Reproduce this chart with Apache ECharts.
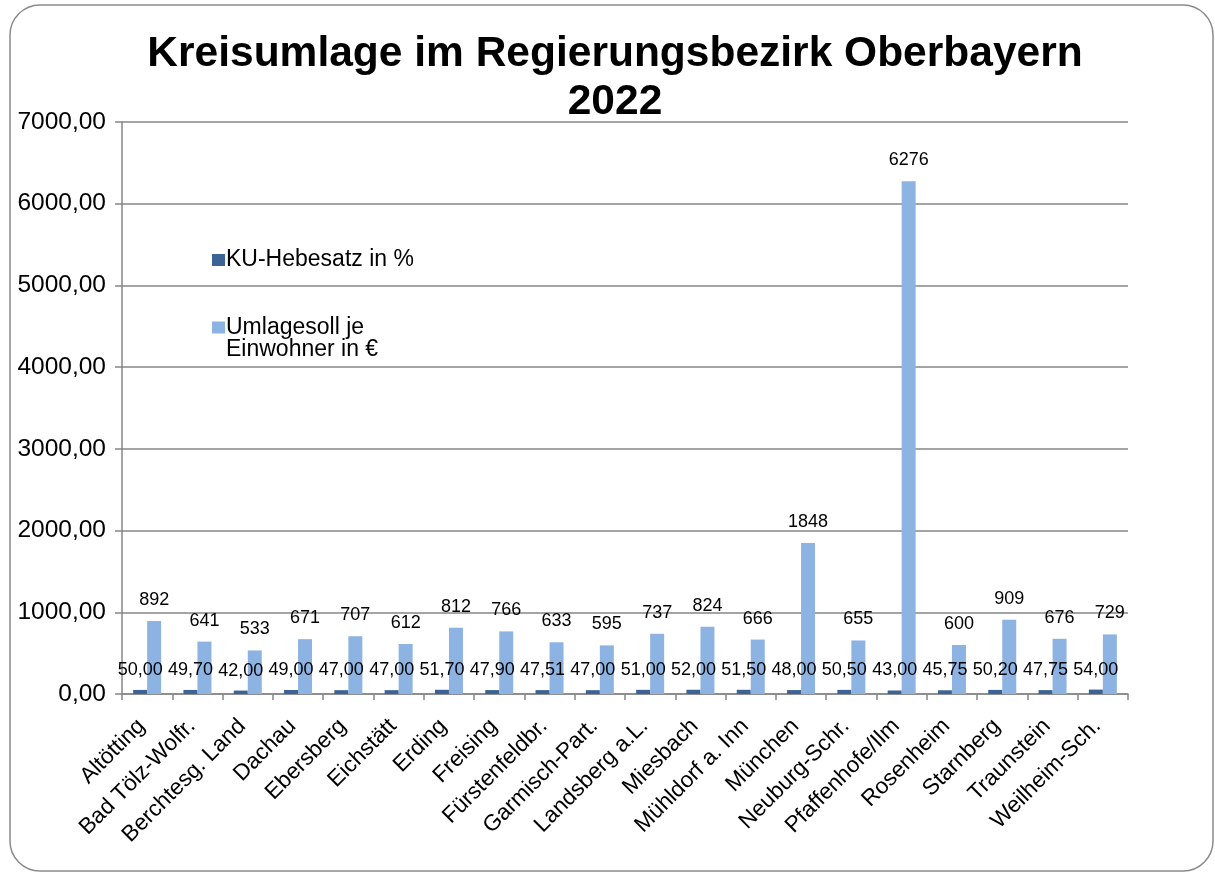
<!DOCTYPE html>
<html>
<head>
<meta charset="utf-8">
<script src="https://cdn.jsdelivr.net/npm/echarts@6/dist/echarts.min.js"></script>
<style>
  html, body { margin: 0; padding: 0; background: #fff; }
  #chart { width: 1215px; height: 873px; }
</style>
</head>
<body>
<div id="chart"></div>
<script>
  // Landkreise
  const kreise = ['Altötting', 'Bad Tölz-Wolfr.', 'Berchtesg. Land', 'Dachau', 'Ebersberg', 'Eichstätt',
    'Erding', 'Freising', 'Fürstenfeldbr.', 'Garmisch-Part.', 'Landsberg a.L.', 'Miesbach',
    'Mühldorf a. Inn', 'München', 'Neuburg-Schr.', 'Pfaffenhofe/Ilm', 'Rosenheim', 'Starnberg',
    'Traunstein', 'Weilheim-Sch.'];
  const hebesatz = [50.00, 49.70, 42.00, 49.00, 47.00, 47.00, 51.70, 47.90, 47.51, 47.00,
    51.00, 52.00, 51.50, 48.00, 50.50, 43.00, 45.75, 50.20, 47.75, 54.00];
  const umlagesoll = [892, 641, 533, 671, 707, 612, 812, 766, 633, 595,
    737, 824, 666, 1848, 655, 6276, 600, 909, 676, 729];
  const yTicks = { min: 0, max: 7000, interval: 1000 };

  const font = '"Liberation Sans", Arial, sans-serif';
  const komma = v => v.toFixed(2).replace('.', ',');

  const chart = echarts.init(document.getElementById('chart'));
  chart.setOption({
    textStyle: { fontFamily: font, color: '#000' },
    title: {
      text: 'Kreisumlage im Regierungsbezirk Oberbayern\n2022',
      left: 610,
      textAlign: 'center',
      top: 25,
      textStyle: { fontSize: 42.5, fontWeight: 'bold', color: '#000', lineHeight: 48, fontFamily: font }
    },
    graphic: [{
      type: 'rect',
      shape: { x: 10, y: 5, width: 1203, height: 866, r: 30 },
      style: { fill: 'none', stroke: '#8a8a8a', lineWidth: 1.5 },
      silent: true
    }],
    legend: [{
      data: ['KU-Hebesatz in %'],
      orient: 'vertical',
      left: 207, top: 243,
      itemWidth: 13, itemHeight: 12, itemGap: 10,
      icon: 'rect',
      textStyle: { fontSize: 23, lineHeight: 24, padding: [0, 0, 0, -4], color: '#000', fontFamily: font }
    }, {
      data: ['Umlagesoll je Einwohner in €'],
      orient: 'vertical',
      left: 207, top: 288,
      itemWidth: 13, itemHeight: 12,
      icon: 'rect',
      // leerer erster Absatz, damit die erste Zeile auf Höhe des Symbols steht
      formatter: () => '\nUmlagesoll je\nEinwohner in €',
      textStyle: { fontSize: 23, lineHeight: 22, padding: [3, 0, 0, -4], color: '#000', fontFamily: font }
    }],
    grid: { left: 122, right: 87, top: 122, bottom: 179 },
    xAxis: {
      type: 'category',
      data: kreise,
      axisLine: { lineStyle: { color: '#868686', width: 1.5 } },
      axisTick: { show: true, length: 6, lineStyle: { color: '#868686', width: 1.5 } },
      axisLabel: {
        rotate: 45, fontSize: 22.5, color: '#000', margin: 23, interval: 0,
        padding: [0, 8, 0, 0], fontFamily: font
      }
    },
    yAxis: {
      type: 'value',
      min: yTicks.min, max: yTicks.max, interval: yTicks.interval,
      axisLine: { show: true, lineStyle: { color: '#868686', width: 1.5 } },
      axisTick: { show: true, length: 7, lineStyle: { color: '#868686', width: 1.5 } },
      axisLabel: { fontSize: 24.5, color: '#000', margin: 16, formatter: komma, fontFamily: font },
      splitLine: { lineStyle: { color: '#868686', width: 1.5 } }
    },
    series: [{
      name: 'KU-Hebesatz in %',
      type: 'bar',
      data: hebesatz,
      barWidth: 14,
      barGap: '0%',
      itemStyle: { color: '#3B6396' },
      label: {
        show: true, position: 'top', distance: 11,
        fontSize: 18, color: '#000', fontFamily: font,
        formatter: p => komma(p.value)
      }
    }, {
      name: 'Umlagesoll je Einwohner in €',
      type: 'bar',
      data: umlagesoll,
      barWidth: 14,
      barGap: '0%',
      itemStyle: { color: '#8DB3E2' },
      label: {
        show: true, position: 'top', distance: 12,
        fontSize: 18, color: '#000', fontFamily: font
      }
    }]
  });
</script>
</body>
</html>
